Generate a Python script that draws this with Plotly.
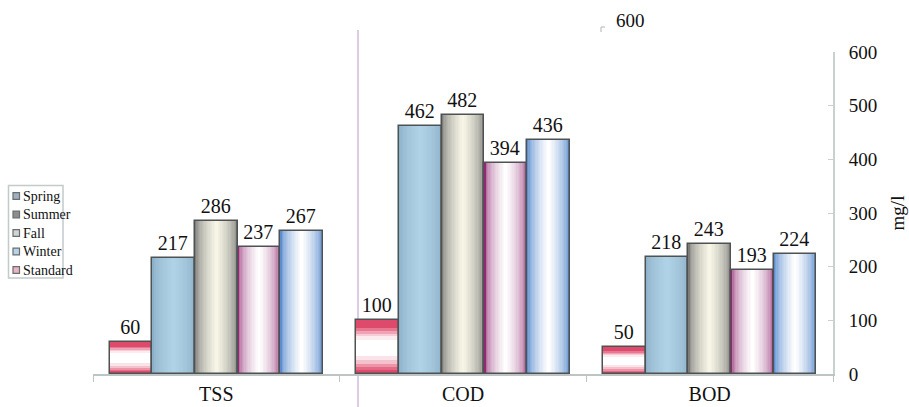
import plotly.graph_objects as go

# Pollutant concentrations (mg/l) by season, with the discharge standard
categories = ["TSS", "COD", "BOD"]
standard = [60, 100, 50]
spring = [217, 462, 218]
summer = [286, 482, 243]
fall = [237, 394, 193]
winter = [267, 436, 224]
y_ticks = [0, 100, 200, 300, 400, 500, 600]
legend_labels = ["Spring", "Summer", "Fall", "Winter", "Standard"]
legend_swatches = ["#9fb2c4", "#8c8d8d", "#d2d4d4", "#b6d3ea", "#eab4c4"]

SERIF = '"Liberation Serif", "Times New Roman", serif'
BAR_W = 0.173
GROUP_W = 5 * BAR_W
OUTLINE = "#4f5252"

# plot area in pixels, used to place the hand-drawn legend box
PLOT_L, PLOT_R, PLOT_T, PLOT_B = 93, 833, 52, 374


def px_x(px):
    return (px - PLOT_L) / (PLOT_R - PLOT_L)


def px_y(px):
    return (PLOT_B - px) / (PLOT_B - PLOT_T)


def hex_rgb(c):
    c = c.lstrip("#")
    return tuple(int(c[i:i + 2], 16) for i in (0, 2, 4))


def mix(c1, c2, t):
    a, b = hex_rgb(c1), hex_rgb(c2)
    r = [round(a[i] + (b[i] - a[i]) * t) for i in range(3)]
    return "rgb({},{},{})".format(*r)


def slot_left(slot):
    return -GROUP_W / 2 + slot * BAR_W


fig = go.Figure()


def shaded_bar(values, slot, edge, center, power, layers=16):
    """Bar with left-right shading: nested layers from edge colour to centre colour."""
    left = slot_left(slot)
    for k in range(layers):
        t = (k / (layers - 1)) ** power
        w = BAR_W * (1 - k / layers)
        fig.add_trace(go.Bar(
            x=categories, y=values, width=w, offset=left + (BAR_W - w) / 2,
            marker=dict(color=mix(edge, center, t), line=dict(width=0)),
            showlegend=False, hoverinfo="skip",
        ))


def banded_bar(values, slot, profile):
    """Bar shaded bottom-to-top; each band runs to the top so later bands cover earlier ones."""
    left = slot_left(slot)
    for f0, col in profile:
        fig.add_trace(go.Bar(
            x=categories, y=[v * (1 - f0) for v in values],
            base=[v * f0 for v in values],
            width=BAR_W, offset=left,
            marker=dict(color=col, line=dict(width=0)),
            showlegend=False, hoverinfo="skip",
        ))


def outline(values, slot, name):
    fig.add_trace(go.Bar(
        x=categories, y=values, width=BAR_W, offset=slot_left(slot),
        marker=dict(color="rgba(0,0,0,0)", line=dict(width=1.5, color=OUTLINE)),
        text=[str(v) for v in values], textposition="outside",
        textfont=dict(family=SERIF, size=20, color="#111"),
        cliponaxis=False, showlegend=False, name=name,
        hovertemplate="%{y}<extra>" + name + "</extra>",
    ))


RED = "#de4a6c"
standard_profile = [
    (0.00, RED), (0.08, "#e46a86"), (0.13, "#ec95a8"), (0.19, "#f4c2cd"),
    (0.26, "#fae4ea"), (0.33, "#ffffff"), (0.64, "#fcecf0"), (0.70, "#f6cdd6"),
    (0.75, "#efa3b4"), (0.80, "#e77890"), (0.85, RED),
]

banded_bar(standard, 0, standard_profile)
shaded_bar(spring, 1, "#8cb0c8", "#b0d2e6", 0.6)
shaded_bar(summer, 2, "#7c7d7b", "#f7f5e6", 0.55)
shaded_bar(fall, 3, "#922a72", "#ffffff", 0.4)
shaded_bar(winter, 4, "#5c8dce", "#ffffff", 0.6)

for slot, (vals, nm) in enumerate([(standard, "Standard"), (spring, "Spring"),
                                   (summer, "Summer"), (fall, "Fall"), (winter, "Winter")]):
    outline(vals, slot, nm)

AXIS_GRAY = "#bcc4c4"

# legend box: small framed swatches with labels
shapes = [
    dict(type="rect", xref="paper", yref="paper",
         x0=px_x(8.5), x1=px_x(63), y0=px_y(278), y1=px_y(185.5),
         line=dict(color="#c2cacb", width=1.5), fillcolor="white"),
]
annotations = []
for i, (lab, col) in enumerate(zip(legend_labels, legend_swatches)):
    cy = 196 + i * 18.5
    shapes.append(dict(type="rect", xref="paper", yref="paper",
                       x0=px_x(13), x1=px_x(19.5), y0=px_y(cy + 3.3), y1=px_y(cy - 3.3),
                       line=dict(color="#6a6e6e", width=1.2), fillcolor=col))
    annotations.append(dict(text=lab, xref="paper", yref="paper", x=px_x(20.5), y=px_y(cy),
                            xanchor="left", yanchor="middle", showarrow=False,
                            font=dict(family=SERIF, size=14, color="#111")))

shapes += [
    dict(type="line", xref="paper", yref="paper", x0=px_x(358), x1=px_x(358),
         y0=px_y(410), y1=px_y(30), line=dict(color="#dccbe4", width=2), layer="below"),
    dict(type="line", xref="paper", yref="paper", x0=px_x(601), x1=px_x(601),
         y0=px_y(32), y1=px_y(27), line=dict(color="#c8cccc", width=1.5)),
    dict(type="line", xref="paper", yref="paper", x0=px_x(601), x1=px_x(605),
         y0=px_y(27), y1=px_y(27), line=dict(color="#c8cccc", width=1.5)),
]
annotations.append(dict(text="600", xref="paper", yref="paper", x=px_x(630), y=px_y(21),
                        showarrow=False, font=dict(family=SERIF, size=19, color="#111"),
                        xanchor="center", yanchor="middle"))

fig.update_layout(
    width=909, height=407,
    margin=dict(l=PLOT_L, r=909 - PLOT_R, t=PLOT_T, b=407 - PLOT_B, autoexpand=False),
    paper_bgcolor="white", plot_bgcolor="white",
    barmode="overlay", bargap=0, showlegend=False,
    font=dict(family=SERIF, color="#111"),
    xaxis=dict(
        type="category", range=[-0.5, 2.5], automargin=False,
        showline=True, linecolor=AXIS_GRAY, linewidth=1.5,
        ticks="outside", tickson="boundaries", ticklen=6, tickcolor=AXIS_GRAY,
        ticklabelstandoff=1,
        tickfont=dict(family=SERIF, size=20, color="#111"),
        showgrid=False,
    ),
    yaxis=dict(
        side="right", range=[0, 600], tickvals=y_ticks, automargin=False,
        showline=True, linecolor="#c8d0d0", linewidth=2,
        ticks="inside", ticklen=5, tickcolor="#c8d0d0",
        ticklabelstandoff=10,
        tickfont=dict(family=SERIF, size=19, color="#111"),
        showgrid=False, zeroline=False,
        title=dict(text="mg/l", font=dict(family=SERIF, size=19, color="#111"), standoff=14),
    ),
    shapes=shapes,
    annotations=annotations,
)

fig.write_html("out.html")
